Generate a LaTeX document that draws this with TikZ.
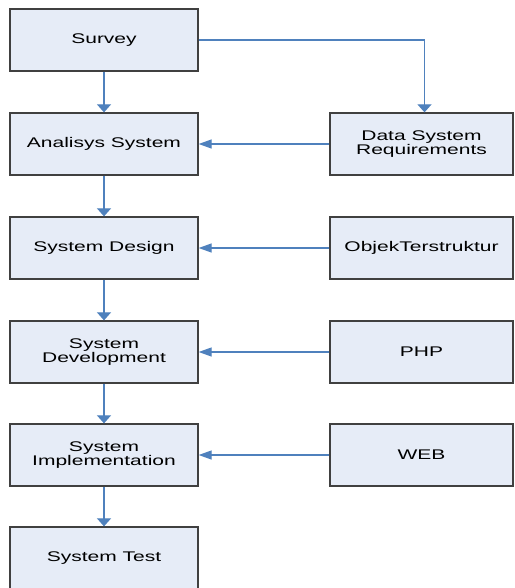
\documentclass[tikz,border=0pt]{standalone}
\usepackage{fontspec}
\setmainfont[FakeStretch=1.5]{Liberation Sans}
\usetikzlibrary{arrows.meta}
\definecolor{boxfill}{HTML}{E6ECF7}
\definecolor{boxline}{HTML}{404040}
\definecolor{flowblue}{HTML}{4F81BD}
\tikzset{
	box/.style={draw=boxline,fill=boxfill,line width=1.3pt,
		minimum width=188pt,minimum height=62pt,inner sep=0pt,align=center,
		font=\fontsize{14}{13.8}\selectfont},
	sidebox/.style={box,minimum width=183pt},
	flowdown/.style={draw=flowblue,line width=1.2pt,-{Triangle[length=8pt,width=14pt]}},
	flowleft/.style={draw=flowblue,line width=1.2pt,-{Triangle[length=13pt,width=9pt]}}
}
\begin{document}
\begin{tikzpicture}[x=1pt,y=-1pt]
				\useasboundingbox (0,0) rectangle (514,588);
				% left column
				\node[box] (survey) at (104,40) {Survey};
				\node[box] (analisys) at (104,144) {Analisys System};
				\node[box] (design) at (104,248) {System Design};
				\node[box] (develop) at (104,352) {System\\Development};
				\node[box] (implement) at (104,455) {System\\Implementation};
				\node[box] (test) at (104,558) {System Test};
				% right column
				\node[sidebox] (datareq) at (421.5,144) {Data System\\Requirements};
				\node[sidebox] (objek) at (421.5,248) {ObjekTerstruktur};
				\node[sidebox] (php) at (421.5,352) {PHP};
				\node[sidebox] (web) at (421.5,455) {WEB};
				\coordinate (turn) at (424.5,40);
				% connectors
				\draw[flowdown] (survey) -- (analisys);
				\draw[flowdown] (analisys) -- (design);
				\draw[flowdown] (design) -- (develop);
				\draw[flowdown] (develop) -- (implement);
				\draw[flowdown] (implement) -- (test);
				\draw[flowdown] (survey.east) -- (turn) -- (turn |- datareq.north);
				\draw[flowleft] (datareq) -- (analisys);
				\draw[flowleft] (objek) -- (design);
				\draw[flowleft] (php) -- (develop);
				\draw[flowleft] (web) -- (implement);
			\end{tikzpicture}
\end{document}
